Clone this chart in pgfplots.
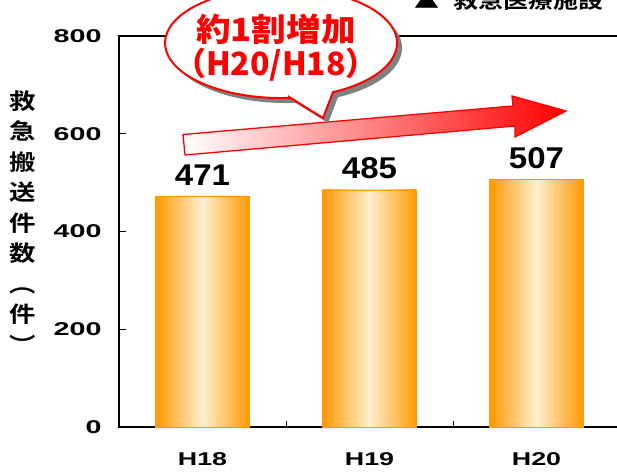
\documentclass[border=0pt]{standalone}
\usepackage{pgfplots}
\pgfplotsset{compat=1.18}
\usepackage{fontspec}
\setmainfont{Liberation Sans}
\newfontfamily\widesans{Liberation Sans}[FakeStretch=1.55]
\newfontfamily\xsans{Liberation Sans}[FakeStretch=1.45]
\newfontfamily\valsans{Liberation Sans}[FakeStretch=1.1]
\newfontfamily\cjkb{Noto Sans CJK JP Bold}
\newfontfamily\cjkpop{Noto Sans CJK JP Black}
\definecolor{barorange}{RGB}{255,153,0}
\definecolor{barlight}{RGB}{255,238,208}
\pgfplotsset{mybar/.style={ybar, bar width=94pt, draw=barorange, line width=0.8pt,
    left color=barorange, right color=barorange, middle color=barlight, mark=none,
    nodes near coords,
    every node near coord/.append style={font=\valsans\bfseries\fontsize{30}{30}\selectfont, anchor=base, yshift=11pt, inner sep=0pt, text=black}}}

\begin{document}
\begin{tikzpicture}
\useasboundingbox (0,0) rectangle (617pt,-471pt);
\begin{axis}[
  at={(119pt,-427pt)}, anchor=south west,
  scale only axis, width=501pt, height=391pt,
  xmin=-0.5, xmax=2.5, ymin=0, ymax=800,
  xtick={0,1,2}, xticklabels={H18,H19,H20},
  minor xtick={0.5,1.5},
  ytick={0,200,400,600,800},
  tick align=inside, xtick pos=bottom, ytick pos=left,
  major x tick style={draw=none},
  minor tick length=6pt, major tick length=7pt,
  tick style={line width=0.9pt, black},
  axis line style={line width=2.2pt},
  /pgf/number format/assume math mode=true,
  yticklabel style={font=\widesans\bfseries\fontsize{18.5}{20}\selectfont, xshift=-14pt},
  xticklabel style={font=\xsans\bfseries\fontsize{18.5}{20}\selectfont, yshift=-22pt},
]
\addplot[mybar] coordinates {(0,471)};
\addplot[mybar] coordinates {(1,485)};
\addplot[mybar] coordinates {(2,507)};
\end{axis}
\begin{scope}[x=1pt,y=-1pt]
% arrow
\draw[draw=red, line width=1.3pt, left color=white, right color=red]
  (183,134.5) -- (513,106) -- (512,96) -- (566,111) -- (515,137) -- (515,126) -- (185,155) -- cycle;
% bubble shadow
\fill[gray, shift={(5,5)}] (290,97.5) -- (323,118) -- (333,92.2)
  arc[start angle=63.4, end angle=-274.5, x radius=116, y radius=55] -- cycle;
% bubble
\filldraw[fill=white, draw=red, line width=2pt] (290,97.5) -- (323,118) -- (333,92.2)
  arc[start angle=63.4, end angle=-274.5, x radius=116, y radius=55] -- cycle;
\node[text=red, font=\cjkpop\fontsize{32}{34}\selectfont, anchor=base, inner sep=0, xscale=1.08, transform shape] at (276,41) {約1割増加};
\node[text=red, font=\cjkpop\fontsize{32}{34}\selectfont, anchor=base, inner sep=0] at (276,75) {（H20/H18）};
% top right caption
\node[anchor=base west, font=\cjkb\fontsize{20}{20}\selectfont, inner sep=0, xscale=1.25, transform shape] at (414.5,8.5) {▲\hspace{11pt}救急医療施設（};
% y title
\node[font=\cjkb\fontsize{22}{30.5}\selectfont, align=center, inner sep=0, xscale=1.2, transform shape] at (23,222) {救\\急\\搬\\送\\件\\数\\︵\\件\\︶};
\end{scope}
\end{tikzpicture}
\end{document}
